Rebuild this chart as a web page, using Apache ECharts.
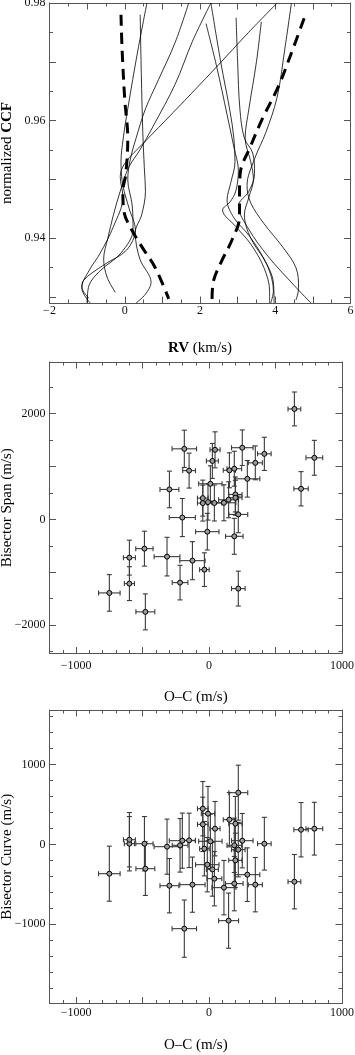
<!DOCTYPE html>
<html>
<head>
<meta charset="utf-8">
<script src="https://cdn.jsdelivr.net/npm/echarts@6/dist/echarts.min.js"></script>
<style>
  html, body { margin: 0; padding: 0; background: #fff; }
  #chart { width: 355px; height: 1055px; }
</style>
</head>
<body>
<div id="chart"></div>
<script>
// ---- panel 1: CCF flanks, [RV km/s, normalized CCF] ----
const templateLeft = [[-0.10,0.978],[-0.07,0.972],[0.00,0.9636],[0.08,0.957],[0.03,0.951],[-0.05,0.948],[-0.02,0.9445],[0.18,0.9415],[0.46,0.9385],[0.81,0.935],[1.17,0.9297]];
const templateRight = [[2.32,0.9297],[2.36,0.9328],[2.58,0.9362],[2.85,0.9397],[3.05,0.9436],[3.05,0.9471],[3.07,0.9511],[3.34,0.9556],[3.65,0.9602],[4.09,0.9659],[4.40,0.971],[4.78,0.9776]];

const ccfLeft1 = [[0.41,0.978],[0.44,0.968],[0.48,0.958],[0.52,0.952],[0.55,0.948],[0.45,0.944],[0.28,0.941],[0.40,0.9365],[0.70,0.9325],[0.55,0.9305],[0.30,0.929]];
const ccfLeft2 = [[0.59,0.98],[0.35,0.972],[0.08,0.962],[-0.04,0.957],[-0.10,0.953],[-0.05,0.949],[0.12,0.945],[0.28,0.9415],[0.05,0.938],[-0.55,0.9355],[-1.10,0.9328],[-1.14,0.9315],[-0.92,0.929]];
const ccfLeft3 = [[1.70,0.98],[1.34,0.9733],[0.90,0.967],[0.55,0.962],[0.30,0.957],[0.15,0.9535],[0.08,0.950],[0.20,0.9455],[0.22,0.9415],[-0.10,0.9375],[-0.65,0.9345],[-0.95,0.932],[-1.00,0.929]];
const ccfLeft4 = [[2.29,0.98],[1.80,0.9735],[1.34,0.9662],[0.75,0.959],[0.40,0.955],[0.10,0.952],[-0.12,0.948],[-0.30,0.944],[-0.45,0.940],[-0.56,0.9365],[-0.47,0.9334],[-0.25,0.9308]];
const ccfLeft5 = [[4.05,0.98],[3.29,0.975],[2.45,0.9692],[1.29,0.9614],[0.50,0.9562],[0.01,0.9528],[-0.12,0.9505],[-0.05,0.947],[-0.30,0.942],[-0.65,0.9375],[-0.95,0.9345],[-1.14,0.9317],[-0.95,0.9298]];

const ccfRight1 = [[2.16,0.9765],[2.45,0.969],[2.72,0.961],[2.90,0.9555],[3.02,0.9515],[2.95,0.948],[2.80,0.9462],[2.60,0.9448],[2.95,0.942],[3.35,0.939],[3.70,0.935],[3.85,0.931],[3.85,0.929]];
const ccfRight2 = [[2.29,0.98],[2.55,0.970],[2.80,0.9615],[2.90,0.957],[2.93,0.953],[2.82,0.9495],[2.72,0.9465],[2.90,0.9435],[3.30,0.9405],[3.70,0.9365],[3.95,0.9325],[3.97,0.929]];
const ccfRight3 = [[2.96,0.9775],[3.00,0.970],[3.06,0.962],[3.18,0.957],[3.40,0.9545],[3.45,0.951],[3.30,0.948],[3.02,0.9455],[3.30,0.9415],[3.80,0.937],[4.50,0.932],[4.95,0.929]];
const ccfRight4 = [[3.63,0.9768],[3.50,0.970],[3.30,0.962],[3.20,0.957],[3.35,0.953],[3.42,0.950],[3.30,0.947],[3.18,0.944],[3.35,0.940],[3.78,0.9355],[3.95,0.931],[3.88,0.929]];
const ccfRight5 = [[4.43,0.98],[4.25,0.972],[4.05,0.964],[3.75,0.958],[3.45,0.9535],[3.25,0.949],[3.35,0.946],[3.70,0.9425],[4.20,0.9385],[4.55,0.935],[4.62,0.9315],[4.55,0.9295]];

// ---- panels 2 and 3: O-C residuals (m/s) vs bisector span / curvature (m/s) ----
const ocValues = [-750,-599,-599,-486,-479,-316,-298,-218,-201,-186,-150,-125,-47,-47,-35,-8,-13,10,25,45,40,112,147,153,190,198,198,190,220,220,250,288,348,416,642,692,792];
const ocErr    = [81,38,45,65,71,97,71,59,98,92,48,95,40,40,36,50,88,88,45,38,56,90,75,46,55,50,50,66,71,51,81,94,53,51,48,54,63];
const spanValues = [-1390,-1214,-723,-553,-1748,-704,566,-1195,35,1334,922,-780,402,308,-950,327,-232,673,1105,1315,310,314,371,928,958,471,409,-320,94,-1308,1355,767,1069,1239,2088,579,1164];
const spanErr    = [346,320,330,330,340,365,346,327,360,352,330,360,340,340,318,340,346,340,330,340,340,340,340,330,330,330,330,340,346,330,336,346,320,314,320,324,330];
const curveValues = [-367,8,58,8,-304,-29,-517,-12,46,-1054,50,-504,446,250,-54,384,-254,38,-313,196,-429,-541,-954,309,-12,259,-200,-491,646,-66,46,-379,-504,8,-467,183,196];
const curveErr    = [344,340,340,340,335,345,340,335,345,358,340,345,340,340,340,340,340,340,335,340,340,340,345,340,340,340,340,340,344,340,340,335,340,330,340,340,330];

const FONT = 'Liberation Serif';
const FRAME = '#555';

function steps(from, to, step) {
  const a = [];
  for (let v = from; v <= to + step * 1e-6; v += step) a.push(+v.toFixed(6));
  return a;
}
const minusFmt = v => String(v).replace('-', '\u2212');

// one side of a panel frame: main axis (line, minor ticks, labels, name) + an overlay for longer major ticks
function side(gridIndex, pos, min, max, minor, major, labels, margin, nameOpts) {
  const base = { type: 'value', gridIndex, position: pos, min, max, splitLine: { show: false } };
  const main = Object.assign({}, base, {
    axisLine: { show: true, onZero: false, lineStyle: { color: FRAME, width: 1 } },
    axisTick: { show: true, inside: true, length: 3.5, customValues: minor, lineStyle: { color: FRAME, width: 1 } },
    axisLabel: labels
      ? { show: true, customValues: labels, margin, formatter: minusFmt, color: '#111', fontFamily: FONT, fontSize: 12 }
      : { show: false }
  }, nameOpts || {});
  const majorAxis = Object.assign({}, base, {
    axisLine: { show: false, onZero: false },
    axisTick: { show: true, inside: true, length: 6.5, customValues: major, lineStyle: { color: FRAME, width: 1 } },
    axisLabel: { show: false }
  });
  return [main, majorAxis];
}

function nameStyle() {
  return { fontFamily: FONT, fontSize: 15, color: '#000',
    rich: { b: { fontFamily: FONT, fontSize: 15, fontWeight: 'bold', color: '#000' },
            n: { fontFamily: FONT, fontSize: 15, color: '#000' } } };
}

function axisName(name, gap) {
  return { name, nameLocation: 'middle', nameGap: gap, nameMoveOverlap: false, nameTextStyle: nameStyle() };
}

const xAxes = [], yAxes = [];
function panel(g, xr, yr, xName, yName, xGap, yGap, xMargin) {
  xAxes.push(...side(g, 'bottom', xr.min, xr.max, xr.minor, xr.major, xr.labels, xMargin, axisName(xName, xGap)));
  xAxes.push(...side(g, 'top', xr.min, xr.max, xr.minor, xr.major, null));
  yAxes.push(...side(g, 'left', yr.min, yr.max, yr.minor, yr.major, yr.labels, 4, axisName(yName, yGap)));
  yAxes.push(...side(g, 'right', yr.min, yr.max, yr.minor, yr.major, null));
}

const ocRange = { min: -1200, max: 1000, minor: steps(-1200, 1000, 100), major: steps(-1000, 1000, 500), labels: [-1000, 0, 1000] };

panel(0,
  { min: -2, max: 6, minor: steps(-2, 6, 0.5), major: steps(-2, 6, 1), labels: [-2, 0, 2, 4, 6] },
  { min: 0.929, max: 0.98, minor: steps(0.93, 0.98, 0.005), major: steps(0.93, 0.98, 0.01), labels: [0.94, 0.96, 0.98] },
  '{b|RV} (km/s)', '{n|normalized} {b|CCF}', 38, 35, 2);
panel(1, ocRange,
  { min: -2535, max: 2975, minor: steps(-2500, 2500, 500), major: steps(-2000, 2000, 1000), labels: [-2000, 0, 2000] },
  'O\u2013C (m/s)', 'Bisector Span (m/s)', 36, 35, 6);
panel(2, ocRange,
  { min: -1990, max: 1680, minor: steps(-1800, 1600, 200), major: steps(-1000, 1000, 1000), labels: [-1000, 0, 1000] },
  'O\u2013C (m/s)', 'Bisector Curve (m/s)', 34, 35, 3);

function flank(data, dashed) {
  return {
    type: 'line', xAxisIndex: 0, yAxisIndex: 0, data,
    showSymbol: false, smooth: 0.35, silent: true, clip: true,
    lineStyle: dashed ? { color: '#000', width: 3, type: [11, 7] } : { color: '#000', width: 0.8 }
  };
}

function errorBars(p, ys, yErr) {
  const data = ocValues.map((x, i) => [x, ys[i], ocErr[i], yErr[i]]);
  return {
    type: 'custom', xAxisIndex: 4 * p, yAxisIndex: 4 * p, data, silent: true,
    encode: { x: 0, y: 1 },
    renderItem(params, api) {
      const x = api.value(0), y = api.value(1), ex = api.value(2), ey = api.value(3);
      const c = api.coord([x, y]);
      const l = api.coord([x - ex, y]), r = api.coord([x + ex, y]);
      const t = api.coord([x, y + ey]), b = api.coord([x, y - ey]);
      const cap = 2.5;
      const st = { stroke: '#3a3a3a', lineWidth: 1.1 };
      const seg = (x1, y1, x2, y2) => ({ type: 'line', shape: { x1, y1, x2, y2 }, style: st });
      return { type: 'group', children: [
        seg(l[0], c[1], r[0], c[1]),
        seg(c[0], t[1], c[0], b[1]),
        seg(l[0], c[1] - cap, l[0], c[1] + cap),
        seg(r[0], c[1] - cap, r[0], c[1] + cap),
        seg(c[0] - cap, t[1], c[0] + cap, t[1]),
        seg(c[0] - cap, b[1], c[0] + cap, b[1])
      ] };
    }
  };
}

function points(p, ys) {
  return {
    type: 'scatter', xAxisIndex: 4 * p, yAxisIndex: 4 * p, silent: true,
    data: ocValues.map((x, i) => [x, ys[i]]),
    symbol: 'circle', symbolSize: 5, z: 5,
    itemStyle: { color: '#9a9a9a', borderColor: '#000', borderWidth: 1, opacity: 1 }
  };
}

const chart = echarts.init(document.getElementById('chart'), null, { renderer: 'canvas' });
chart.setOption({
  animation: false,
  backgroundColor: '#fff',
  textStyle: { fontFamily: FONT },
  grid: [
    { left: 49.5, top: 3, width: 301, height: 300, outerBoundsMode: 'none' },
    { left: 49.5, top: 362, width: 292.5, height: 291.5, outerBoundsMode: 'none' },
    { left: 49.5, top: 710, width: 292.5, height: 293.5, outerBoundsMode: 'none' }
  ],
  xAxis: xAxes,
  yAxis: yAxes,
  series: [
    flank(ccfLeft1), flank(ccfLeft2), flank(ccfLeft3), flank(ccfLeft4), flank(ccfLeft5),
    flank(ccfRight1), flank(ccfRight2), flank(ccfRight3), flank(ccfRight4), flank(ccfRight5),
    flank(templateLeft, true), flank(templateRight, true),
    errorBars(1, spanValues, spanErr), points(1, spanValues),
    errorBars(2, curveValues, curveErr), points(2, curveValues)
  ]
});
</script>
</body>
</html>
